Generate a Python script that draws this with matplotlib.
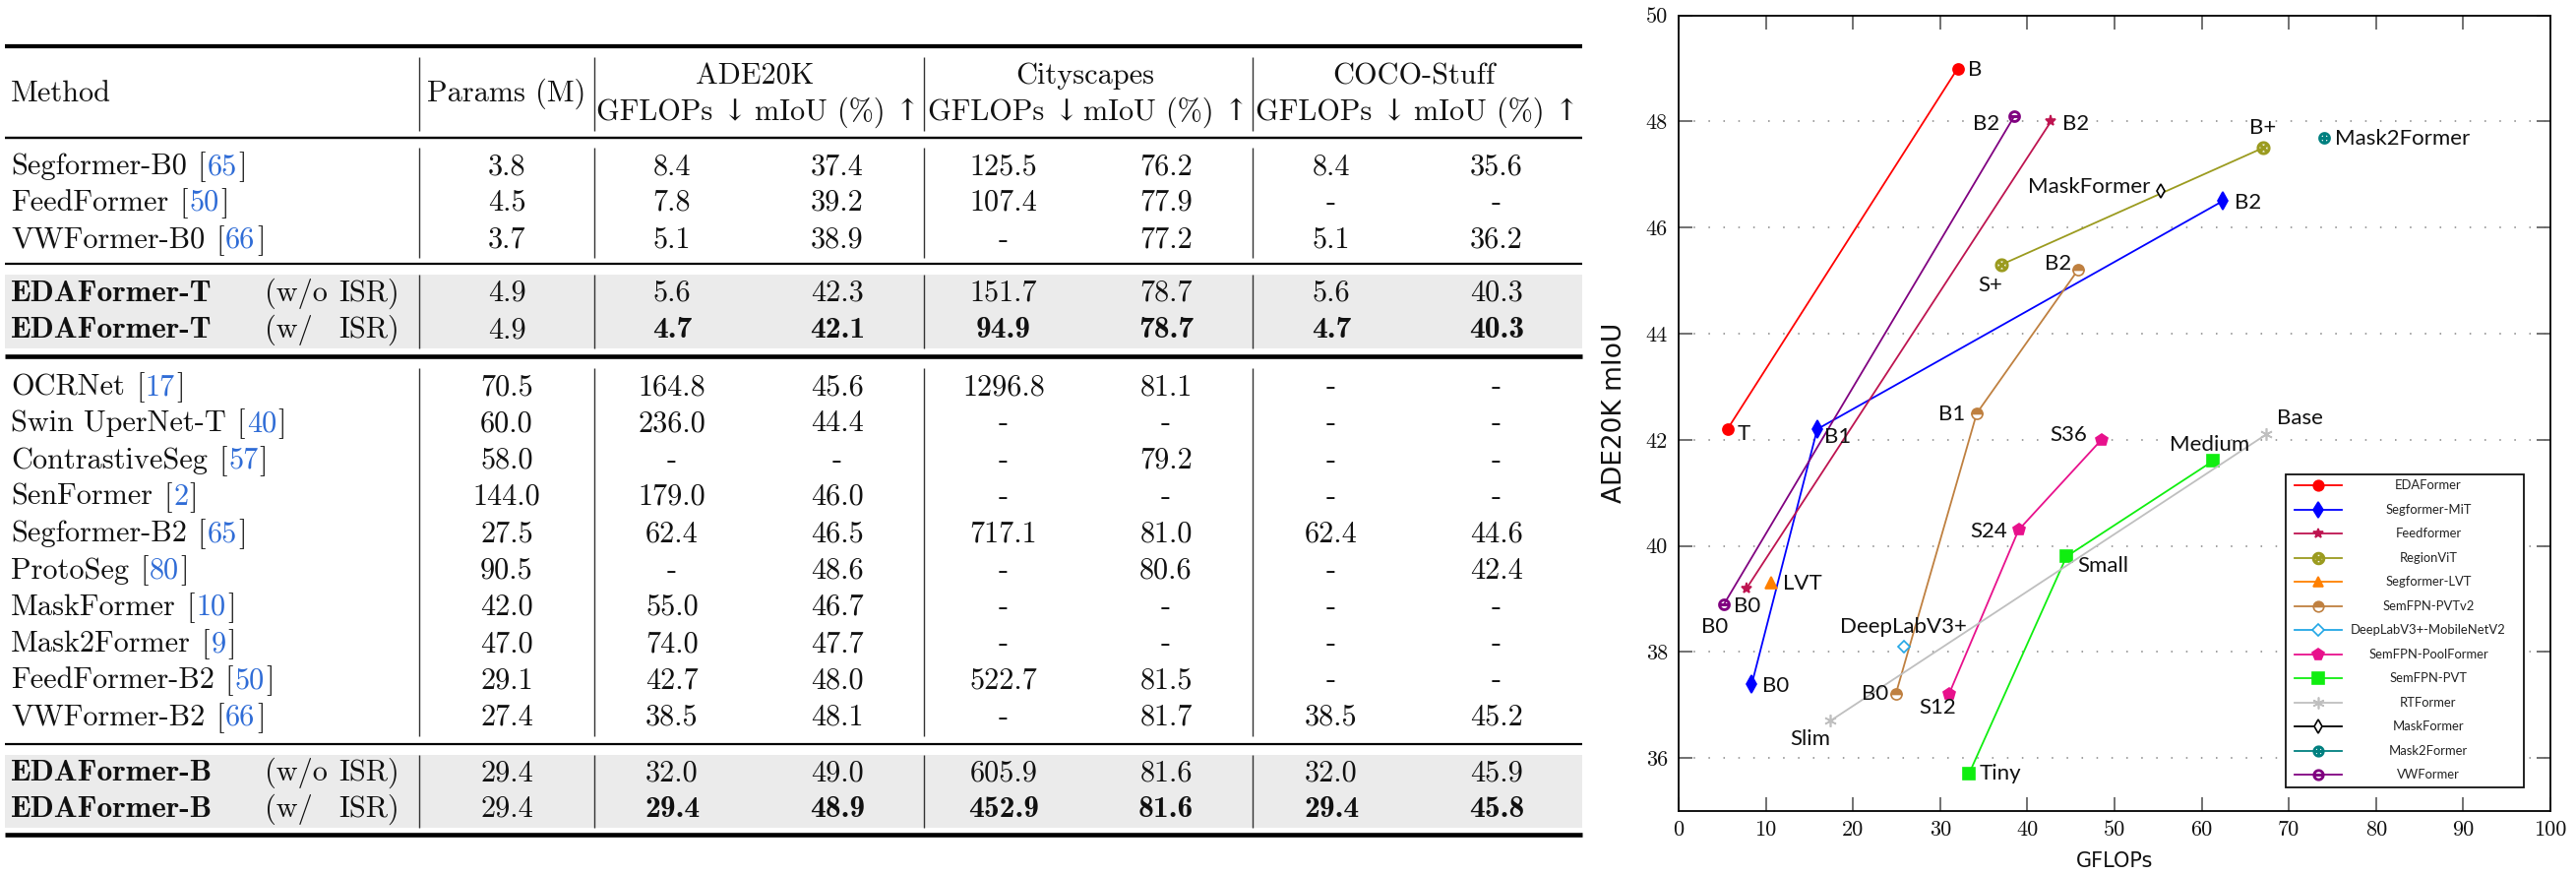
import matplotlib
matplotlib.use("Agg")
import matplotlib.pyplot as plt
from matplotlib.patches import Rectangle

plt.rcParams["font.family"] = ["cmr10", "DejaVu Serif"]
plt.rcParams["axes.formatter.use_mathtext"] = False
plt.rcParams["axes.unicode_minus"] = False

W, H = 2618, 889

# ---------------- table data ----------------
methods = ["Segformer-B0", "FeedFormer", "VWFormer-B0", "EDAFormer-T", "EDAFormer-T",
           "OCRNet", "Swin UperNet-T", "ContrastiveSeg", "SenFormer", "Segformer-B2",
           "ProtoSeg", "MaskFormer", "Mask2Former", "FeedFormer-B2", "VWFormer-B2",
           "EDAFormer-B", "EDAFormer-B"]
refs = ["65", "50", "66", None, None, "17", "40", "57", "2", "65", "80", "10", "9",
        "50", "66", None, None]
isr = [None, None, None, "w/o", "w/", None, None, None, None, None, None, None, None,
       None, None, "w/o", "w/"]
params = [3.8, 4.5, 3.7, 4.9, 4.9, 70.5, 60.0, 58.0, 144.0, 27.5, 90.5, 42.0, 47.0,
          29.1, 27.4, 29.4, 29.4]
ade_gflops = [8.4, 7.8, 5.1, 5.6, 4.7, 164.8, 236.0, None, 179.0, 62.4, None, 55.0,
              74.0, 42.7, 38.5, 32.0, 29.4]
ade_miou = [37.4, 39.2, 38.9, 42.3, 42.1, 45.6, 44.4, None, 46.0, 46.5, 48.6, 46.7,
            47.7, 48.0, 48.1, 49.0, 48.9]
city_gflops = [125.5, 107.4, None, 151.7, 94.9, 1296.8, None, None, None, 717.1, None,
               None, None, 522.7, None, 605.9, 452.9]
city_miou = [76.2, 77.9, 77.2, 78.7, 78.7, 81.1, None, 79.2, None, 81.0, 80.6, None,
             None, 81.5, 81.7, 81.6, 81.6]
coco_gflops = [8.4, None, 5.1, 5.6, 4.7, None, None, None, None, 62.4, None, None, None,
               None, 38.5, 32.0, 29.4]
coco_miou = [35.6, None, 36.2, 40.3, 40.3, None, None, None, None, 44.6, 42.4, None,
             None, None, 45.2, 45.9, 45.8]
datasets = ["ADE20K", "Cityscapes", "COCO-Stuff"]

# ---------------- chart data ----------------
eda_gflops, eda_miou, eda_tags = [5.6, 32.0], [42.2, 49.0], ["T", "B"]
mit_gflops, mit_miou, mit_tags = [8.4, 15.9, 62.4], [37.4, 42.2, 46.5], ["B0", "B1", "B2"]
feed_gflops, feed_miou, feed_tags = [7.8, 42.7], [39.2, 48.0], ["B0", "B2"]
rvit_gflops, rvit_miou, rvit_tags = [37.0, 67.0], [45.3, 47.5], ["S+", "B+"]
lvt_gflops, lvt_miou, lvt_tags = [10.6], [39.3], ["LVT"]
pvtv2_gflops, pvtv2_miou, pvtv2_tags = [24.9, 34.2, 45.8], [37.2, 42.5, 45.2], ["B0", "B1", "B2"]
dlab_gflops, dlab_miou, dlab_tags = [25.8], [38.1], ["DeepLabV3+"]
pool_gflops, pool_miou, pool_tags = [31.0, 39.0, 48.5], [37.2, 40.3, 42.0], ["S12", "S24", "S36"]
pvt_gflops, pvt_miou, pvt_tags = [33.3, 44.5, 61.3], [35.7, 39.8, 41.6], ["Tiny", "Small", "Medium"]
rt_gflops, rt_miou, rt_tags = [17.4, 67.4], [36.7, 42.1], ["Slim", "Base"]
mf_gflops, mf_miou, mf_tags = [55.3], [46.7], ["MaskFormer"]
m2f_gflops, m2f_miou, m2f_tags = [74.0], [47.7], ["Mask2Former"]
vw_gflops, vw_miou, vw_tags = [5.2, 38.5], [38.9, 48.1], ["B0", "B2"]
x_ticks = [0, 10, 20, 30, 40, 50, 60, 70, 80, 90, 100]
y_ticks = [36, 38, 40, 42, 44, 46, 48, 50]

series = [
    ("EDAFormer", eda_gflops, eda_miou, eda_tags),
    ("Segformer-MiT", mit_gflops, mit_miou, mit_tags),
    ("Feedformer", feed_gflops, feed_miou, feed_tags),
    ("RegionViT", rvit_gflops, rvit_miou, rvit_tags),
    ("Segformer-LVT", lvt_gflops, lvt_miou, lvt_tags),
    ("SemFPN-PVTv2", pvtv2_gflops, pvtv2_miou, pvtv2_tags),
    ("DeepLabV3+-MobileNetV2", dlab_gflops, dlab_miou, dlab_tags),
    ("SemFPN-PoolFormer", pool_gflops, pool_miou, pool_tags),
    ("SemFPN-PVT", pvt_gflops, pvt_miou, pvt_tags),
    ("RTFormer", rt_gflops, rt_miou, rt_tags),
    ("MaskFormer", mf_gflops, mf_miou, mf_tags),
    ("Mask2Former", m2f_gflops, m2f_miou, m2f_tags),
    ("VWFormer", vw_gflops, vw_miou, vw_tags),
]

# marker / line style per series
STYLE = {
    "EDAFormer": dict(color="#FF0000", marker="o", ms=8, mfc="#FF0000"),
    "Segformer-MiT": dict(color="#0000FF", marker="d", ms=9, mfc="#0000FF"),
    "Feedformer": dict(color="#BE1450", marker="*", ms=8, mfc="#BE1450"),
    "RegionViT": dict(color="#9B9B1F", marker=r"$\otimes$", ms=9, mfc="#9B9B1F"),
    "Segformer-LVT": dict(color="#FF8000", marker="^", ms=8, mfc="#FF8000"),
    "SemFPN-PVTv2": dict(color="#BF8040", marker="o", ms=8, mfc="#BF8040",
                         fillstyle="top", mfcalt="white"),
    "DeepLabV3+-MobileNetV2": dict(color="#22A7E6", marker="D", ms=6.5, mfc="white"),
    "SemFPN-PoolFormer": dict(color="#E8118C", marker="p", ms=9, mfc="#E8118C"),
    "SemFPN-PVT": dict(color="#10EE10", marker="s", ms=9, mfc="#10EE10"),
    "RTFormer": dict(color="#BFBFBF", marker=(6, 2, 0), ms=9, mfc="#BFBFBF"),
    "MaskFormer": dict(color="#000000", marker="d", ms=7, mfc="white"),
    "Mask2Former": dict(color="#008080", marker=r"$\oplus$", ms=8, mfc="#008080"),
    "VWFormer": dict(color="#800080", marker=r"$\ominus$", ms=8, mfc="#800080"),
}

# label placement: (ha, dx px, dy px) for each point
LABEL_POS = {
    "EDAFormer": [("left", 10, -5), ("left", 10, -1)],
    "Segformer-MiT": [("left", 11, -2), ("left", 7, -8), ("left", 12, -2)],
    "Feedformer": [("right", -19, -39), ("left", 12, -3)],
    "RegionViT": [("right", 1, -21), ("center", 0, 20)],
    "Segformer-LVT": [("left", 12, -1)],
    "SemFPN-PVTv2": [("right", -7, 0), ("right", -12, -1), ("right", -7, 6)],
    "DeepLabV3+-MobileNetV2": [("center", 0, 20)],
    "SemFPN-PoolFormer": [("right", 7, -14), ("right", -11, -2), ("right", -15, 5)],
    "SemFPN-PVT": [("left", 11, 0), ("left", 11, -10), ("center", -3, 16)],
    "RTFormer": [("right", 0, -19), ("left", 11, 16)],
    "MaskFormer": [("right", -11, 4)],
    "Mask2Former": [("left", 11, -1)],
    "VWFormer": [("left", 10, -2), ("right", -15, -8)],
}

fig = plt.figure(figsize=(W / 100, H / 100), dpi=100)
renderer = fig.canvas.get_renderer()

# ====================================================================
# table (pixel coordinates, y downwards)
# ====================================================================
at = fig.add_axes([0, 0, 1, 1])
at.set_xlim(0, W); at.set_ylim(H, 0); at.axis("off")

FS = 21.8
FSB = 22.7
REG = ["cmr10", "DejaVu Serif"]
BOLD = ["cmb10", "DejaVu Serif"]
BLUE = "#2F6CD6"
INK = "#111111"
TL, TR = 5, 1608
COL_X = [515, 683, 851, 1020, 1185, 1353, 1521]
VL_X = [426, 604, 939, 1273]
row_y = [167, 204, 242, 296, 333] + [391 + 37.3 * i for i in range(10)] + [783, 820]
bands = [(279, 354), (767, 841)]
rules = [(46.7, 4.2), (140, 2.4), (268, 2.2), (362, 4.6), (756, 2.2), (848, 4.6)]
vsegs = [(58, 133), (150, 262), (279, 354), (374, 748), (767, 841)]

for y0, y1 in bands:
    at.add_patch(Rectangle((TL, y0), TR - TL, y1 - y0, fc="#EBEBEB", ec="none", zorder=0))
for y, lw in rules:
    at.plot([TL, TR], [y, y], color="#000000", lw=lw * 0.72, solid_capstyle="butt")
for x in VL_X:
    for y0, y1 in vsegs:
        at.plot([x, x], [y0, y1], color="#333333", lw=1.0, solid_capstyle="butt")


def txt(x, y, s, bold=False, color=INK, ha="left"):
    return at.text(x, y, s, fontsize=FSB if bold else FS, family=BOLD if bold else REG,
                   color=color, ha=ha, va="baseline")


# header
base = 10
txt(11, 93 + base, "Method")
txt(COL_X[0], 93 + base, "Params (M)", ha="center")
for k, name in enumerate(datasets):
    cx = (COL_X[1 + 2 * k] + COL_X[2 + 2 * k]) / 2
    txt(cx, 75 + base, name, ha="center")
    txt(COL_X[1 + 2 * k], 112 + base, "GFLOPs \u2193", ha="center")
    txt(COL_X[2 + 2 * k], 112 + base, "mIoU (%) \u2191", ha="center")

columns = [params, ade_gflops, ade_miou, city_gflops, city_miou, coco_gflops, coco_miou]
for i, name in enumerate(methods):
    y = row_y[i] + base
    ours = isr[i] is not None
    t = txt(11, y, name, bold=ours)
    if refs[i] is not None:
        x = 11 + t.get_window_extent(renderer).width + 11
        for part, col in (("[", INK), (refs[i], BLUE), ("]", INK)):
            p = txt(x, y, part, color=col)
            x += p.get_window_extent(renderer).width + 1.5
    if ours:
        txt(269, y, "(w/o" if isr[i] == "w/o" else "(w/")
        txt(344, y, "ISR)")
    for j, col in enumerate(columns):
        v = col[i]
        s = "-" if v is None else f"{v:.1f}"
        txt(COL_X[j], y, s, bold=(isr[i] == "w/" and j > 0), ha="center")

# ====================================================================
# chart
# ====================================================================
AX_L, AX_R, AX_T, AX_B = 1706, 2592, 15.7, 824
ax = fig.add_axes([AX_L / W, 1 - AX_B / H, (AX_R - AX_L) / W, (AX_B - AX_T) / H])
ax.set_xlim(0, 100); ax.set_ylim(35, 50)
ax.set_xticks(x_ticks); ax.set_xticklabels([str(v) for v in x_ticks])
ax.set_yticks(y_ticks); ax.set_yticklabels([str(v) for v in y_ticks])
ax.tick_params(direction="in", length=10, width=1.3, color="#666666", top=True,
               right=True, labelsize=16, labelcolor="#111111")
ax.tick_params(axis="x", pad=7)
ax.tick_params(axis="y", pad=8)
for lbl in ax.get_xticklabels() + ax.get_yticklabels():
    lbl.set_family(REG)
for sp in ax.spines.values():
    sp.set_linewidth(1.3)
for yv in y_ticks[:-1]:
    ax.axhline(yv, color="#A0A0A0", lw=1.4, ls=(0, (0.8, 7)), zorder=0)


def mk(st, scale=1.0):
    d = dict(color=st["color"], marker=st["marker"], markersize=st["ms"] * scale,
             markerfacecolor=st["mfc"], markeredgecolor=st["color"], markeredgewidth=1.2)
    if "fillstyle" in st:
        d.update(fillstyle=st["fillstyle"], markerfacecoloralt=st["mfcalt"])
    return d


for name, xs, ys, tags in series:
    st = STYLE[name]
    ax.plot(xs, ys, lw=1.3, zorder=3, **mk(st))
    for (x, y, tag), (ha, dx, dy) in zip(zip(xs, ys, tags), LABEL_POS[name]):
        ax.annotate(tag, (x, y), xytext=(dx * 0.72, dy * 0.72), textcoords="offset points",
                    ha=ha, va="center", fontsize=16, family="Lato", color="#111111",
                    zorder=4)

ax.text(0.5, (AX_B - 875) / (AX_B - AX_T), "GFLOPs", transform=ax.transAxes,
        ha="center", va="center", fontsize=15, family="DejaVu Sans", color="#111111")
ax.text((1641 - AX_L) / (AX_R - AX_L), 0.5, "ADE20K mIoU", transform=ax.transAxes,
        rotation=90, ha="center", va="center", fontsize=19, family="DejaVu Sans",
        color="#111111")

# legend (pgfplots style: centred entries)
LX0, LX1, LY0, LY1 = 2323, 2565, 481.7, 800


def fx(px):
    return (px - AX_L) / (AX_R - AX_L)


def fy(py):
    return (AX_B - py) / (AX_B - AX_T)


ax.add_patch(Rectangle((fx(LX0), fy(LY1)), fx(LX1) - fx(LX0), fy(LY0) - fy(LY1),
                       transform=ax.transAxes, fc="white", ec="#111111", lw=1.3,
                       zorder=6))
for i, (name, *_rest) in enumerate(series):
    py = 493.3 + 24.5 * i
    ax.plot([fx(2332), fx(2356), fx(2380)], [fy(py)] * 3, transform=ax.transAxes,
            lw=1.3, zorder=7, clip_on=False, markevery=[1], **mk(STYLE[name], 0.95))
    ax.text(fx(2468), fy(py), name, transform=ax.transAxes, ha="center", va="center",
            fontsize=9.4, family="Lato", color="#222222", zorder=7)

fig.savefig("out.png", dpi=100)
